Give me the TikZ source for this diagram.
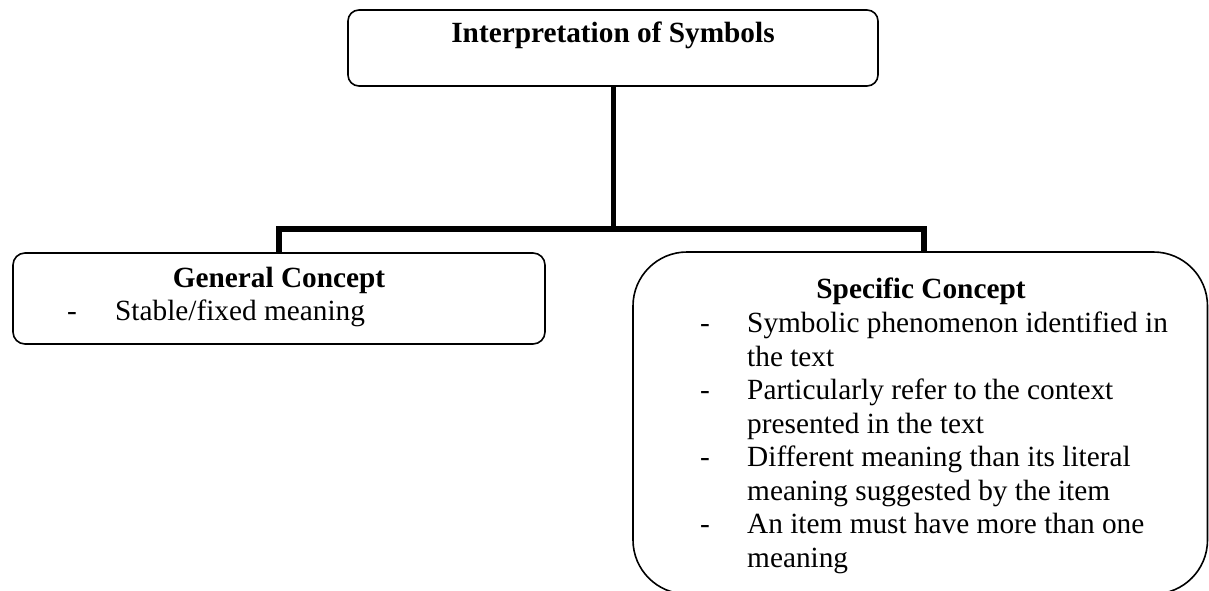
\documentclass[tikz,border=0pt]{standalone}
\usepackage{fontspec}
\setmainfont{Liberation Serif}
\begin{document}
\begin{tikzpicture}[x=1pt,y=-1pt,
  box/.style={draw=black,line width=1.6pt},
  conn/.style={draw=black,line width=5.5pt},
  txt/.style={inner sep=0pt,anchor=base west,font=\fontsize{29.3}{33.5}\selectfont},
  head/.style={inner sep=0pt,anchor=base,font=\fontsize{29.3}{33.5}\selectfont\bfseries}]
\useasboundingbox (0,0) rectangle (1209,591);
% boxes
\draw[box,rounded corners=11pt] (348,10) rectangle (878,86);
\draw[box,rounded corners=12pt] (13,253) rectangle (545,344);
\draw[box,rounded corners=54pt] (633,252) rectangle (1207.5,594);
% coordinates for connectors
\coordinate (topb) at (613.5,86);
\coordinate (mid) at (613.5,229);
\coordinate (lb) at (279,229);
\coordinate (rb) at (924,229);
\coordinate (ltop) at (279,253);
\coordinate (rtop) at (924,253);
\draw[conn] (topb) -- (mid);
\draw[conn,line cap=rect] (lb) -- (rb);
\draw[conn] (lb) -- (ltop);
\draw[conn] (rb) -- (rtop);
% texts
\node[head] (title) at (613,43) {Interpretation of Symbols};
\node[head] (gen) at (279,287) {General Concept};
\node[txt] (gd) at (67,320) {-};
\node[txt] (g1) at (115,320) {Stable/fixed meaning};
\node[head] (spec) at (921,298) {Specific Concept};
\node[txt] (d1) at (700,332.5) {-};
\node[txt] (s1) at (747,332.5) {Symbolic phenomenon identified in};
\node[txt] (s2) at (747,366) {the text};
\node[txt] (d2) at (700,399.5) {-};
\node[txt] (s3) at (747,399.5) {Particularly refer to the context};
\node[txt] (s4) at (747,433) {presented in the text};
\node[txt] (d3) at (700,466.5) {-};
\node[txt] (s5) at (747,466.5) {Different meaning than its literal};
\node[txt] (s6) at (747,500) {meaning suggested by the item};
\node[txt] (d4) at (700,533.5) {-};
\node[txt] (s7) at (747,533.5) {An item must have more than one};
\node[txt] (s8) at (747,567) {meaning};
\end{tikzpicture}
\end{document}
